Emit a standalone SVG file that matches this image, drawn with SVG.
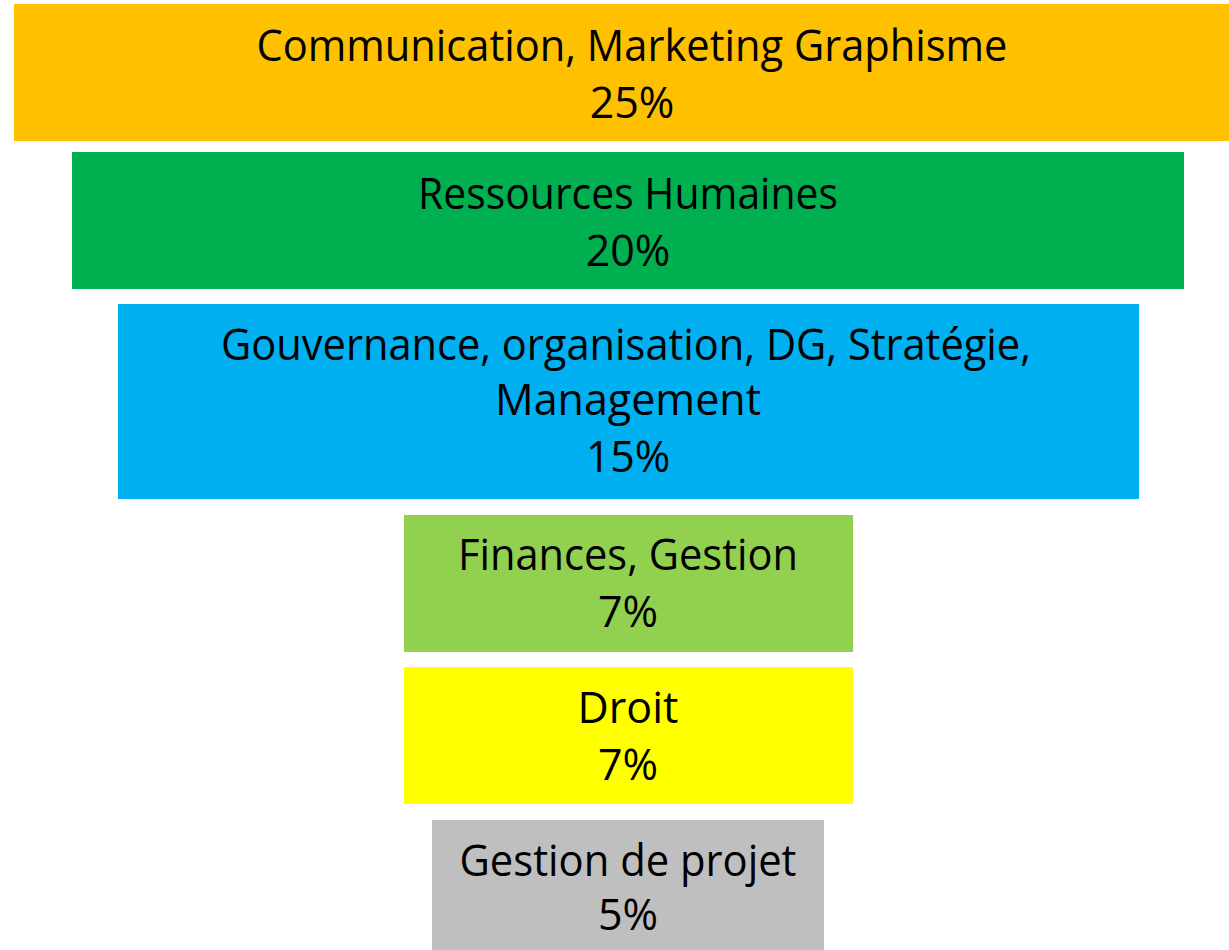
<svg xmlns="http://www.w3.org/2000/svg" width="1229" height="950" viewBox="0 0 1229 950">
<style>
text{font-family:"Open Sans","Noto Sans","Liberation Sans",sans-serif;font-size:43px;fill:#000;text-anchor:middle}
</style>
<rect width="1229" height="950" fill="#fff"/>
<g id="n1">
<rect x="14" y="4" width="1215" height="137" fill="#FFC000"/>
<text x="632" y="61" textLength="751" lengthAdjust="spacingAndGlyphs">Communication, Marketing Graphisme</text>
<text x="632" y="118">25%</text>
</g>
<g id="n2">
<rect x="72" y="152" width="1112" height="137" fill="#00B050"/>
<text x="628" y="209" textLength="420" lengthAdjust="spacingAndGlyphs">Ressources Humaines</text>
<text x="628" y="266">20%</text>
</g>
<g id="n3">
<rect x="118" y="304" width="1021" height="195" fill="#00B0F0"/>
<text x="626" y="360" textLength="810" lengthAdjust="spacingAndGlyphs">Gouvernance, organisation, DG, Stratégie,</text>
<text x="628" y="415">Management</text>
<text x="628" y="472">15%</text>
</g>
<g id="n4">
<rect x="404" y="515" width="449" height="137" fill="#92D050"/>
<text x="628" y="570" textLength="340" lengthAdjust="spacingAndGlyphs">Finances, Gestion</text>
<text x="628" y="627">7%</text>
</g>
<g id="n5">
<rect x="404" y="667" width="449" height="137" fill="#FFFF00"/>
<text x="628" y="723">Droit</text>
<text x="628" y="780">7%</text>
</g>
<g id="n6">
<rect x="432" y="820" width="392" height="130" fill="#BFBFBF"/>
<text x="628" y="876" textLength="337" lengthAdjust="spacingAndGlyphs">Gestion de projet</text>
<text x="628" y="930">5%</text>
</g>
<g id="connectors"/>
</svg>
